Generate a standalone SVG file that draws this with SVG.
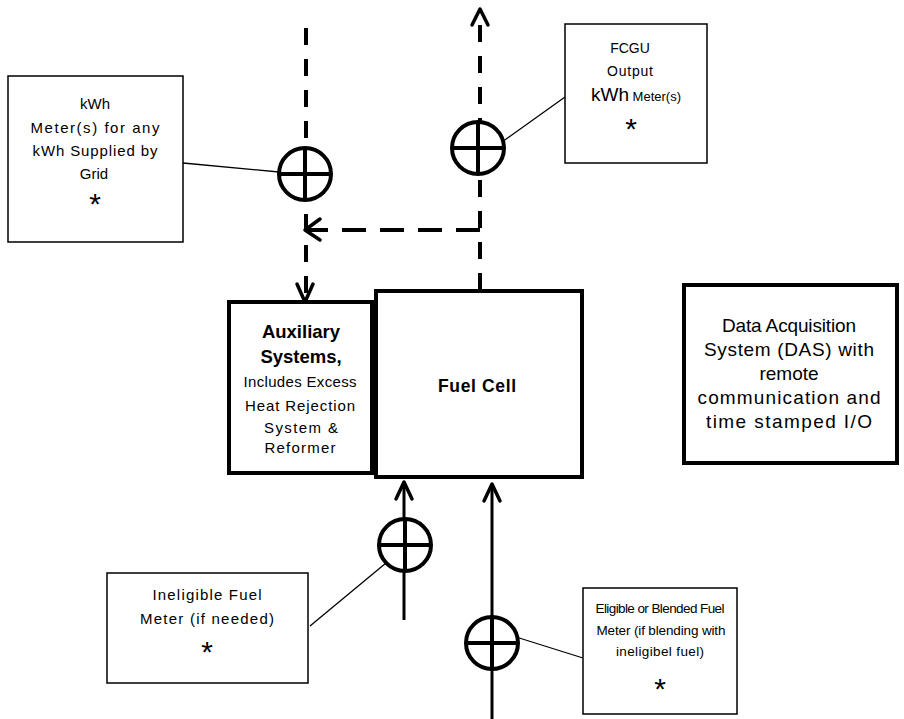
<svg xmlns="http://www.w3.org/2000/svg" width="904" height="719" viewBox="0 0 904 719">
<style>
  text { font-family: "Liberation Sans", Arial, sans-serif; fill: #000; text-anchor: middle; }
  .t { font-size: 15px; }
  .s { font-size: 14px; }
  .e { font-size: 13.5px; }
  .b { font-size: 18.5px; font-weight: bold; }
  .d { font-size: 19px; }
  .ast { font-size: 30px; }
  .thin { fill: #fff; stroke: #000; stroke-width: 1.5; }
  .thick { fill: #fff; stroke: #000; stroke-width: 4; }
  .dash { fill: none; stroke: #000; stroke-width: 4; stroke-dasharray: 17 14; }
  .solid { fill: none; stroke: #000; stroke-width: 3; }
  .lead { fill: none; stroke: #000; stroke-width: 1.3; }
  .head { fill: none; stroke: #000; stroke-width: 3.5; stroke-linecap: round; stroke-linejoin: round; }
  .meter circle { fill: #fff; stroke: #000; stroke-width: 4; }
  .meter line { stroke: #000; stroke-width: 4; }
</style>

<g id="connectors">
  <line class="dash" x1="306" y1="28" x2="306" y2="296"/>
  <line class="dash" x1="480" y1="290" x2="480" y2="12"/>
  <line class="dash" x1="480" y1="230" x2="308" y2="230" style="stroke-dasharray:24 14"/>
  <polyline class="head" points="472,25 480,9 488,25"/>
  <polyline class="head" points="320,219 305,230 320,240"/>
  <polyline class="head" points="297,284 305,302 313,284"/>
  <line class="solid" x1="404" y1="620" x2="404" y2="483"/>
  <polyline class="head" points="396,499 404,482 412,499"/>
  <line class="solid" x1="492" y1="719" x2="492" y2="485"/>
  <polyline class="head" points="484,501 492,484 500,501"/>
  <line class="lead" x1="183" y1="163" x2="279" y2="172"/>
  <line class="lead" x1="565" y1="97" x2="502" y2="142"/>
  <line class="lead" x1="310" y1="626" x2="386" y2="563"/>
  <line class="lead" x1="516" y1="637" x2="583" y2="658"/>
</g>

<g id="meter-grid" class="meter">
  <circle cx="305" cy="174" r="26"/>
  <line x1="279" y1="174" x2="331" y2="174"/>
  <line x1="305" y1="148" x2="305" y2="200"/>
</g>
<g id="meter-fcgu" class="meter">
  <circle cx="478" cy="148" r="26"/>
  <line x1="452" y1="148" x2="504" y2="148"/>
  <line x1="478" y1="122" x2="478" y2="174"/>
</g>
<g id="meter-ineligible" class="meter">
  <circle cx="405" cy="545" r="26"/>
  <line x1="379" y1="545" x2="431" y2="545"/>
  <line x1="405" y1="519" x2="405" y2="571"/>
</g>
<g id="meter-eligible" class="meter">
  <circle cx="492" cy="643" r="26"/>
  <line x1="466" y1="643" x2="518" y2="643"/>
  <line x1="492" y1="617" x2="492" y2="669"/>
</g>

<g id="grid-meter-box">
  <rect class="thin" x="8" y="76" width="175" height="166"/>
  <text class="t" x="95" y="109">kWh</text>
  <text class="t" x="95" y="133" textLength="129" lengthAdjust="spacing">Meter(s)  for any</text>
  <text class="t" x="95" y="156" textLength="125" lengthAdjust="spacing">kWh Supplied by</text>
  <text class="t" x="94" y="179">Grid</text>
  <text class="ast" x="95" y="214">*</text>
</g>

<g id="fcgu-meter-box">
  <rect class="thin" x="565" y="24" width="142" height="139"/>
  <text class="s" x="630" y="53">FCGU</text>
  <text class="s" x="630" y="76" textLength="46" lengthAdjust="spacing">Output</text>
  <text x="636" y="101"><tspan style="font-size:19px">kWh</tspan><tspan style="font-size:13px"> Meter(s)</tspan></text>
  <text class="ast" x="631" y="139">*</text>
</g>

<g id="aux-box">
  <rect class="thick" x="229" y="302" width="143" height="171"/>
  <text class="b" x="301" y="338">Auxiliary</text>
  <text class="b" x="301" y="363">Systems,</text>
  <text class="t" x="300" y="387" textLength="113" lengthAdjust="spacing">Includes Excess</text>
  <text class="t" x="300" y="411" textLength="110" lengthAdjust="spacing">Heat Rejection</text>
  <text class="t" x="301" y="433" textLength="74" lengthAdjust="spacing">System  &amp;</text>
  <text class="t" x="300" y="453" textLength="71" lengthAdjust="spacing">Reformer</text>
</g>

<g id="fuel-cell">
  <rect class="thick" x="376" y="291" width="206" height="186"/>
  <text class="b" x="477" y="392" style="font-size:17.5px" textLength="78" lengthAdjust="spacing">Fuel Cell</text>
</g>

<g id="das-box">
  <rect class="thick" x="684" y="285" width="213" height="178"/>
  <text class="d" x="789" y="332" textLength="134" lengthAdjust="spacing">Data Acquisition</text>
  <text class="d" x="789" y="356" textLength="170" lengthAdjust="spacing">System (DAS)  with</text>
  <text class="d" x="789" y="380">remote</text>
  <text class="d" x="789" y="404" textLength="183" lengthAdjust="spacing">communication  and</text>
  <text class="d" x="789" y="428" textLength="166" lengthAdjust="spacing">time stamped I/O</text>
</g>

<g id="ineligible-box">
  <rect class="thin" x="107" y="573" width="201" height="110"/>
  <text class="t" x="207" y="600" textLength="109" lengthAdjust="spacing">Ineligible Fuel</text>
  <text class="t" x="207" y="624" textLength="134" lengthAdjust="spacing">Meter (if needed)</text>
  <text class="ast" x="207" y="662">*</text>
</g>

<g id="eligible-box">
  <rect class="thin" x="583" y="588" width="154" height="126"/>
  <text class="e" x="660" y="613" textLength="129" lengthAdjust="spacing">Eligible or Blended Fuel</text>
  <text class="e" x="661" y="635" textLength="129" lengthAdjust="spacing">Meter (if blending with</text>
  <text class="e" x="660" y="656" textLength="88" lengthAdjust="spacing">ineligibel fuel)</text>
  <text class="ast" x="660" y="699">*</text>
</g>
</svg>
